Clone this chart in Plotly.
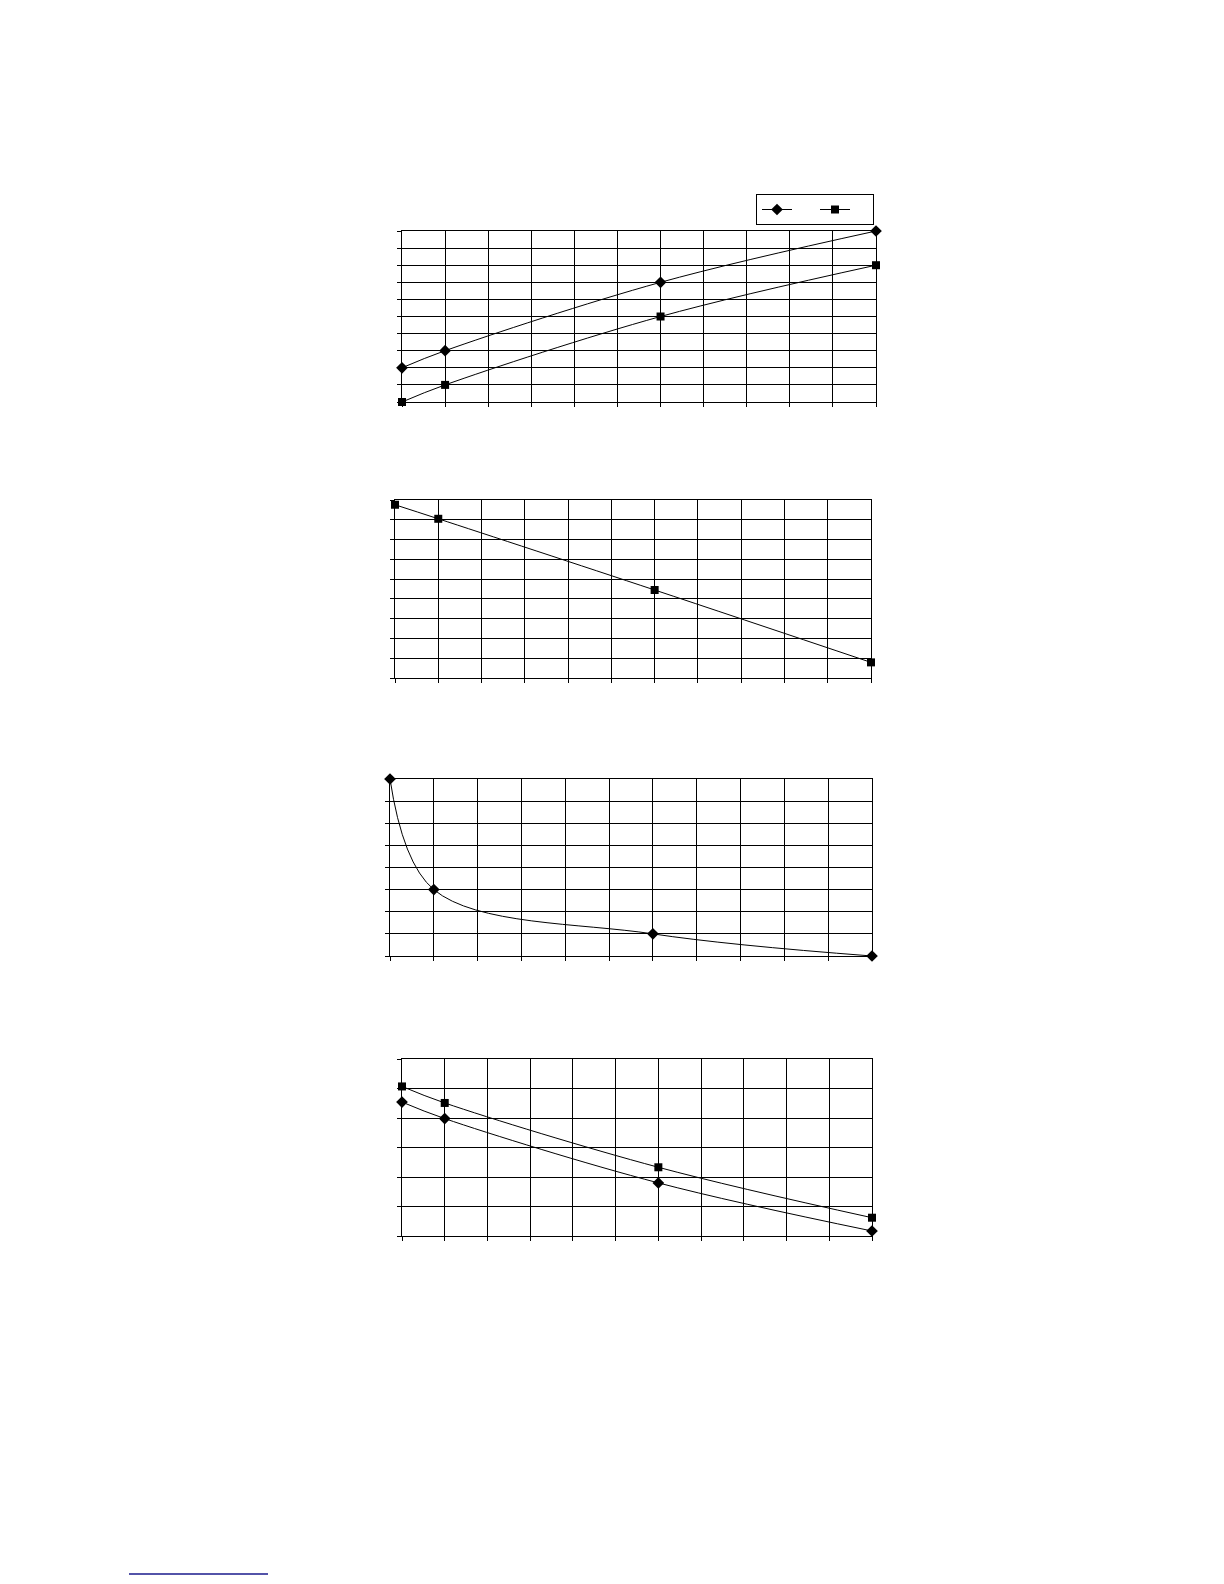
import plotly.graph_objects as go

# shared x positions of the measured points (grid units, 11 columns)
x_points = [0, 1, 6, 11]

# panel 1: two rising series
p1_diamond = [2, 3, 7, 10]
p1_square = [0, 1, 5, 8]

# panel 2: one falling series
p2_square = [8.76, 8.05, 4.45, 0.79]

# panel 3: steep decay
p3_diamond = [8, 3, 1, 0]

# panel 4: two falling series
p4_diamond = [4.54, 3.98, 1.80, 0.17]
p4_square = [5.07, 4.51, 2.33, 0.62]

y_max = [10, 9, 8, 6]
x_max = 11

W, H = 1224, 1584

# plot areas in pixels: left, right, top, bottom
boxes = [
    (394, 868, 223, 394),
    (387, 863, 492, 670),
    (382, 864, 771, 948),
    (394, 864, 1051, 1228),
]

line = dict(color="black", width=1, shape="spline", smoothing=1)
diamond = dict(symbol="diamond", size=9, color="black")
square = dict(symbol="square", size=8, color="black")

fig = go.Figure()

def add(y, marker, panel, show=False, name=" "):
    ax = "" if panel == 1 else str(panel)
    fig.add_trace(go.Scatter(
        x=x_points, y=y, mode="lines+markers",
        line=line, marker=marker, name=name, cliponaxis=False,
        showlegend=show, xaxis="x" + ax, yaxis="y" + ax))

add(p1_diamond, diamond, 1, True, "\u00a0")
add(p1_square, square, 1, True, "\u00a0")
add(p2_square, square, 2)
add(p3_diamond, diamond, 3)
add(p4_diamond, diamond, 4)
add(p4_square, square, 4)

layout = dict(
    width=W, height=H,
    margin=dict(l=0, r=0, t=0, b=0),
    paper_bgcolor="white", plot_bgcolor="white",
    font=dict(family="Liberation Sans", size=10, color="black"),
    legend=dict(
        orientation="h", x=748 / W, y=1 - 217 / H,
        xanchor="left", yanchor="bottom",
        bordercolor="black", borderwidth=1, bgcolor="white",
        itemwidth=30, entrywidth=13, entrywidthmode="pixels",
        font=dict(size=5),
    ),
)

axis_common = dict(
    showgrid=True, gridcolor="black", gridwidth=1,
    showline=True, linecolor="black", linewidth=1, mirror=True,
    ticks="outside", ticklen=4, tickcolor="black", tickwidth=1,
    showticklabels=False, zeroline=False, dtick=1,
)

for i, (l, r, t, b) in enumerate(boxes):
    n = "" if i == 0 else str(i + 1)
    layout["xaxis" + n] = dict(
        axis_common, range=[0, x_max],
        domain=[l / W, r / W], anchor="y" + n)
    layout["yaxis" + n] = dict(
        axis_common, range=[0, y_max[i]],
        domain=[1 - b / H, 1 - t / H], anchor="x" + n)

fig.update_layout(**layout)

# underline of a link at the page foot
fig.add_shape(type="line", xref="paper", yref="paper",
              x0=121 / W, x1=260 / W, y0=1 - 1566 / H, y1=1 - 1566 / H,
              line=dict(color="#1a1a8c", width=1.5))

fig.write_html("out.html")
